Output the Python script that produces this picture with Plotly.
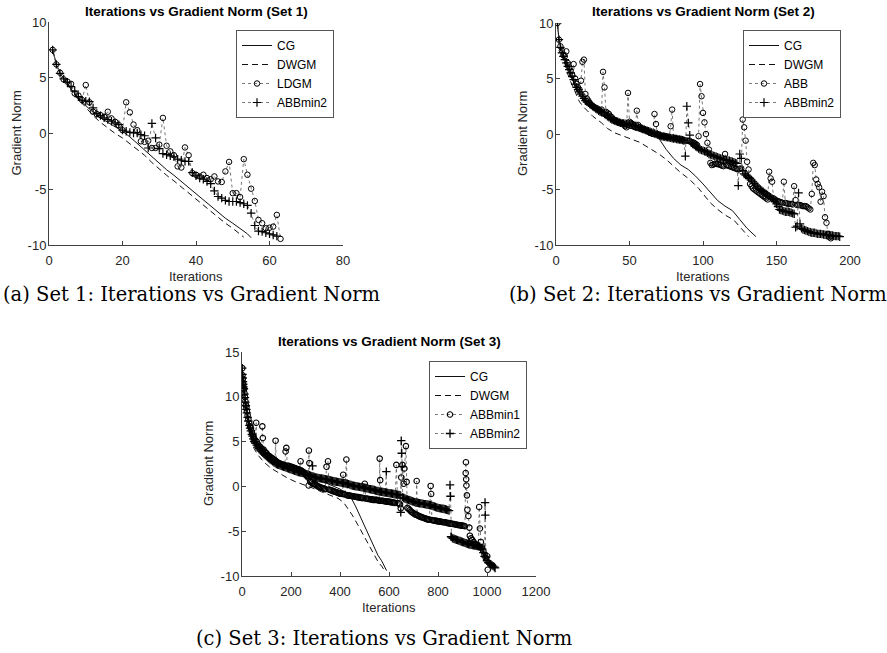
import plotly.graph_objects as go

# ---------------- Set 1 ----------------
s1_cg_iter = [1, 2, 3, 4, 5, 6, 7, 8, 9, 10, 12, 14, 16, 18, 20, 22, 24, 26, 28, 30, 32, 34, 36, 38, 40, 42, 44, 46, 48, 50, 52, 54, 55]
s1_cg_norm = [7.5, 6.2, 5.4, 4.9, 4.5, 4.0, 3.6, 3.2, 2.8, 2.5, 1.9, 1.4, 1.0, 0.6, 0.2, -0.3, -0.9, -1.5, -2.1, -2.7, -3.25, -3.75, -4.3, -4.85, -5.4, -5.95, -6.5, -7.0, -7.6, -8.05, -8.5, -9.0, -9.35]
s1_dw_iter = [1, 2, 3, 4, 5, 6, 7, 8, 9, 10, 12, 14, 16, 18, 20, 22, 24, 26, 28, 30, 32, 34, 36, 38, 40, 42, 44, 46, 48, 50, 52, 53]
s1_dw_norm = [7.5, 6.2, 5.4, 4.9, 4.5, 4.0, 3.5, 3.1, 2.7, 2.35, 1.6, 1.0, 0.5, 0.0, -0.4, -0.9, -1.45, -1.95, -2.6, -3.2, -3.75, -4.25, -4.8, -5.35, -5.9, -6.45, -7.0, -7.5, -8.05, -8.5, -9.0, -9.3]
s1_ldgm_norm = [7.5, 6.2, 5.45, 4.85, 4.65, 4.45, 3.6, 3.4, 3.0, 4.35, 2.8, 1.95, 1.75, 1.65, 1.5, 1.95, 1.35, 1.05, 0.75, 0.3,
                2.8, 1.9, 0.8, 0.3, -0.7, -0.75, -0.65, -1.3, -1.3, -1.0, 1.4, -1.1, -1.6, -1.95, -2.95, -3.05, -1.25, -1.95, -3.55, -3.7,
                -3.85, -3.7, -4.0, -4.1, -3.85, -4.3, -4.35, -3.4, -2.55, -5.35, -5.35, -5.7, -2.3, -3.7, -4.95, -6.05, -7.75, -8.05, -8.5, -8.45,
                -8.35, -7.3, -9.45]
s1_ldgm_iter = list(range(1, len(s1_ldgm_norm) + 1))
s1_abb_norm = [7.5, 6.2, 5.4, 4.9, 4.6, 4.2, 3.8, 3.3, 3.0, 2.9, 2.85, 2.3, 1.8, 1.6, 1.4, 1.25, 1.1, 0.95, 0.8, 0.3,
               0.2, 0.1, 0.05, 0.05, -0.1, -0.2, -1.3, 0.9, -0.4, -1.35, -1.8, -1.9, -2.0, -2.1, -2.3, -2.4, -2.5, -2.5, -3.5, -3.8,
               -4.0, -4.1, -4.3, -4.5, -5.15, -5.65, -5.8, -6.0, -6.1, -6.1, -6.1, -6.2, -6.3, -6.45, -7.15, -8.25, -8.75, -8.8, -8.9, -9.0,
               -9.1, -9.2]
s1_abb_iter = list(range(1, len(s1_abb_norm) + 1))

# ---------------- Set 2 ----------------
s2_cg_iter = [1, 2, 4, 6, 8, 10, 13, 16, 20, 25, 30, 35, 40, 45, 50, 55, 60, 65, 70, 75, 80, 85, 90, 95, 100, 105, 110, 115, 120, 125, 130, 136]
s2_cg_norm = [10, 8.5, 7.6, 6.8, 6.0, 5.3, 4.3, 3.6, 2.9, 2.3, 1.8, 1.4, 1.1, 0.8, 0.55, 0.35, 0.15, 0.0, -0.4, -1.4, -2.2, -2.8, -3.2, -3.8, -4.5, -5.3, -6.0, -6.5, -6.9, -7.7, -8.5, -9.25]
s2_dw_iter = [1, 2, 4, 6, 8, 10, 13, 16, 19, 25, 31, 35, 40, 50, 57, 65, 70, 75, 80, 85, 91, 97, 105, 110, 115, 121, 126, 131]
s2_dw_norm = [10, 8.5, 7.3, 6.3, 5.4, 4.7, 3.8, 2.9, 2.4, 1.6, 1.0, 0.5, 0.1, -0.4, -0.75, -1.4, -1.8, -2.3, -2.9, -3.5, -4.1, -4.9, -6.2, -6.8, -7.3, -7.75, -8.5, -9.25]
s2_abb_pts = [
    [1, 10], [2, 8.5], [3, 7.9], [4, 7.5], [5, 7.1], [6, 7.0], [7, 7.45], [8, 6.4], [9, 6.0], [10, 5.7], [11, 5.3], [12, 6.3],
    [13, 5.0], [14, 4.5], [15, 4.2], [16, 4.0], [17, 4.8], [18, 6.5], [19, 6.7], [20, 3.6], [21, 3.2], [22, 3.0], [23, 2.8],
    [24, 2.6], [25, 2.5], [26, 2.4], [27, 2.35], [28, 2.3], [29, 2.2], [30, 2.1], [31, 2.2], [32, 5.6], [33, 4.2], [34, 2.0], [35, 1.9],
    [36, 1.8], [37, 1.6], [38, 1.5], [39, 1.3], [40, 1.2], [41, 1.15], [42, 1.1], [43, 1.0], [44, 1.0], [45, 0.95], [46, 0.9], [47, 0.7],
    [48, 0.6], [49, 3.7], [50, 1.1], [51, 1.0], [52, 0.9], [53, 0.7], [54, 0.6], [55, 2.1], [56, 0.8], [57, 0.6], [58, 0.5], [59, 0.45],
    [60, 0.4], [61, 0.35], [62, 0.3], [63, 0.2], [64, 0.1], [65, 0.05], [66, 0.0], [67, 1.8], [68, 0.9], [69, 0.0], [70, -0.1],
    [71, -0.15], [72, -0.2], [73, -0.2], [74, -0.2], [75, -0.25], [76, -0.3], [77, -0.3], [78, 0.7], [79, 2.2], [80, -0.4], [81, -0.4],
    [82, -0.4], [83, -0.45], [84, -0.5], [85, -0.5], [86, -0.5], [87, -0.55], [88, -0.6], [89, -0.6], [90, -0.6], [91, -0.65],
    [92, -0.7], [93, -0.75], [94, -0.8], [95, -0.9], [96, -1.0], [97, -0.2], [98, 4.5], [99, 3.4], [100, 1.9], [101, 1.05],
    [102, 0.0], [103, -0.8], [104, -1.4], [105, -2.6], [106, -2.8], [107, -2.75], [108, -2.7], [109, -2.7], [110, -2.7], [111, -2.75],
    [112, -2.8], [113, -2.85], [114, -2.9], [115, -1.8], [116, -2.8], [117, -2.85], [118, -2.9], [119, -2.95], [120, -3.0], [121, -3.05],
    [122, -3.1], [123, -3.15], [124, -3.2], [125, -3.15], [126, -3.1], [127, 1.3], [128, 0.6], [129, -0.6], [130, -2.5], [131, -3.2],
    [132, -4.5], [133, -4.7], [134, -4.9], [135, -5.0], [136, -5.1], [137, -5.2], [138, -5.3], [139, -5.4], [140, -5.5], [141, -5.6],
    [142, -5.7], [143, -5.8], [144, -5.9], [145, -3.4], [146, -4.0], [147, -4.3], [148, -5.8], [149, -5.9], [150, -6.0], [151, -6.05],
    [152, -6.1], [153, -6.15], [154, -6.2], [155, -4.3], [156, -6.2], [157, -6.25], [158, -6.3], [159, -6.3], [160, -6.3], [161, -6.35],
    [162, -4.7], [163, -5.95], [164, -6.4], [165, -6.4], [166, -6.4], [167, -6.45], [168, -6.5], [169, -6.5], [170, -6.5], [171, -6.6],
    [172, -6.7], [173, -6.8], [174, -5.4], [175, -2.6], [176, -2.8], [177, -4.1], [178, -4.5], [179, -4.8], [180, -6.1], [181, -5.2],
    [182, -5.6], [183, -7.5], [184, -8.0], [185, -9.0], [186, -9.3], [187, -9.4]]
s2_abbmin2_pts = [
    [1, 10], [2, 8.5], [3, 7.8], [4, 7.3], [5, 7.0], [6, 6.7], [7, 6.4], [8, 6.1], [9, 5.8], [10, 5.5], [11, 5.2], [12, 4.9],
    [13, 4.5], [14, 4.2], [15, 4.0], [16, 3.8], [17, 3.6], [18, 3.4], [19, 3.2], [20, 3.0], [21, 2.9], [22, 2.8], [23, 2.7], [24, 2.6],
    [25, 2.5], [26, 2.4], [27, 2.3], [28, 2.2], [29, 2.1], [30, 2.0], [31, 1.95], [32, 1.9], [33, 1.8], [34, 1.7], [35, 1.6], [36, 1.5],
    [37, 1.4], [38, 1.3], [39, 1.25], [40, 1.2], [41, 1.15], [42, 1.1], [43, 1.05], [44, 1.0], [45, 0.98], [46, 0.95], [47, 0.92],
    [48, 0.9], [49, 0.88], [50, 0.85], [51, 0.82], [52, 0.8], [53, 0.75], [54, 0.7], [55, 0.65], [56, 0.6], [57, 0.55], [58, 0.5],
    [59, 0.45], [60, 0.4], [61, 0.35], [62, 0.3], [63, 0.25], [64, 0.2], [65, 0.15], [66, 0.1], [67, 0.05], [68, 0.0], [69, -0.05],
    [70, -0.1], [71, -0.15], [72, -0.2], [73, -0.22], [74, -0.25], [75, -0.28], [76, -0.3], [77, -0.32], [78, -0.35], [79, -0.38],
    [80, -0.4], [81, -0.42], [82, -0.45], [83, -0.48], [84, -0.5], [85, -0.52], [86, -0.55], [87, -0.6], [88, -2.0], [89, 2.5],
    [90, 1.0], [91, -0.1], [92, -0.8], [93, -0.9], [94, -1.0], [95, -1.1], [96, -1.2], [97, -1.3], [98, -1.4], [99, -1.45], [100, -1.5],
    [101, -1.55], [102, -1.6], [103, -1.7], [104, -1.8], [105, -1.85], [106, -1.9], [107, -1.95], [108, -2.0], [109, -2.05], [110, -2.1],
    [111, -2.15], [112, -2.2], [113, -2.25], [114, -2.3], [115, -2.32], [116, -2.35], [117, -2.38], [118, -2.4], [119, -2.45],
    [120, -2.5], [121, -2.55], [122, -2.6], [123, -2.65], [124, -4.65], [125, -1.8], [126, -2.2], [127, -3.3], [128, -3.6], [129, -3.7],
    [130, -3.8], [131, -3.9], [132, -4.0], [133, -4.15], [134, -4.3], [135, -4.45], [136, -4.6], [137, -4.75], [138, -4.9], [139, -5.0],
    [140, -5.1], [141, -5.2], [142, -5.3], [143, -5.4], [144, -5.5], [145, -5.6], [146, -5.7], [147, -5.8], [148, -5.9], [149, -6.1],
    [150, -6.3], [151, -6.55], [152, -6.8], [153, -6.85], [154, -6.9], [155, -6.95], [156, -7.0], [157, -7.0], [158, -7.0], [159, -7.05],
    [160, -7.1], [161, -7.15], [162, -7.2], [163, -8.4], [164, -8.3], [165, -5.3], [166, -8.1], [167, -8.5], [168, -8.6], [169, -8.65],
    [170, -8.7], [171, -8.75], [172, -8.8], [173, -8.85], [174, -8.9], [175, -8.9], [176, -8.9], [177, -8.95], [178, -9.0], [179, -9.0],
    [180, -9.0], [181, -9.02], [182, -9.05], [183, -9.08], [184, -9.1], [185, -9.1], [186, -9.1], [187, -9.12], [188, -9.15],
    [189, -9.18], [190, -9.2], [191, -9.2], [192, -9.2], [193, -9.25]]

# ---------------- Set 3 ----------------
s3_cg_iter = [1, 5, 10, 15, 20, 30, 40, 50, 65, 80, 100, 130, 160, 200, 250, 300, 350, 400, 430, 446, 465, 485, 500, 514, 536, 555, 570, 582, 590]
s3_cg_norm = [13.2, 11.4, 10.3, 9.3, 8.5, 7.2, 6.2, 5.4, 4.6, 4.0, 3.4, 2.8, 2.3, 1.8, 1.3, 0.9, 0.3, -0.3, -0.8, -1.3, -2.3, -3.5, -4.4, -5.3, -6.5, -7.7, -8.3, -9.0, -9.4]
s3_dw_iter = [1, 5, 10, 15, 20, 30, 38, 50, 65, 90, 120, 150, 188, 220, 256, 290, 324, 360, 392, 415, 433, 450, 473, 495, 514, 535, 555, 570, 580]
s3_dw_norm = [13.2, 11.2, 10.0, 8.8, 7.8, 6.2, 5.0, 4.2, 3.5, 2.7, 2.0, 1.5, 0.9, 0.5, 0.16, -0.2, -0.6, -0.95, -1.33, -1.8, -2.45, -3.2, -4.3, -5.4, -6.5, -7.5, -8.4, -8.9, -9.3]
s3_abbmin1_pts = [
    [1, 13.2], [2, 12.4], [3, 12.0], [4, 11.6], [5, 11.3], [6, 11.0], [8, 10.8], [10, 10.4], [12, 10.0], [14, 9.5], [16, 9.1],
    [18, 8.8], [20, 8.4], [23, 7.9], [26, 7.5], [30, 7.0], [33, 6.7], [36, 6.5], [40, 6.1], [43, 5.8], [46, 5.6], [50, 5.3],
    [54, 5.1], [58, 7.1], [60, 5.0], [65, 4.7], [70, 4.5], [75, 4.4], [80, 4.2], [83, 6.7], [85, 5.4], [88, 4.1], [92, 3.9],
    [96, 3.8], [100, 3.7], [105, 3.5], [110, 3.4], [115, 3.3], [120, 3.2], [125, 3.1], [130, 3.0], [135, 2.9], [137, 5.1],
    [140, 2.8], [145, 2.7], [150, 2.6], [155, 2.55], [160, 2.5], [165, 2.45], [170, 2.4], [175, 2.35], [178, 3.9], [181, 4.3],
    [185, 2.3], [190, 2.3], [195, 2.25], [200, 2.2], [205, 2.15], [210, 2.1], [215, 2.05], [220, 2.0], [225, 1.95], [230, 1.9],
    [235, 1.85], [239, 2.8], [240, 1.8], [245, 1.7], [250, 1.6], [255, 1.45], [260, 1.3], [265, 1.15], [270, 1.0], [272, 0.1],
    [273, 4.0], [275, 2.6], [278, 0.6], [280, 0.5], [285, 0.4], [290, 0.3], [295, 0.25], [300, 0.2], [305, 0.1], [310, 0.0],
    [315, -0.05], [320, -0.1], [325, -0.15], [330, -0.2], [335, -0.25], [340, -0.3], [345, 2.2], [351, 2.8], [355, -0.35],
    [360, -0.4], [365, -0.45], [370, -0.5], [375, -0.55], [380, -0.6], [385, -0.65], [390, -0.7], [395, -0.75], [400, -0.8],
    [405, -0.8], [410, -0.85], [413, 1.3], [415, -0.85], [420, -0.9], [426, 3.0], [430, -1.0], [435, -1.0], [440, -1.05],
    [445, -1.05], [450, -1.1], [455, -1.1], [460, -1.15], [465, -1.15], [470, -1.2], [475, -1.2], [480, -1.25], [485, -1.25],
    [490, -1.3], [495, -1.3], [501, 0.3], [505, -1.35], [510, -1.35], [515, -1.4], [520, -1.4], [525, -1.45], [530, -1.45],
    [535, -1.5], [540, -1.5], [545, -1.5], [550, -1.5], [555, -1.55], [560, -1.6], [562, 3.1], [564, 0.7], [566, -1.6],
    [570, -1.6], [575, -1.6], [580, -1.65], [585, -1.65], [590, -1.7], [595, -1.7], [600, -1.7], [605, -1.75], [610, -1.75],
    [615, -1.8], [620, -1.8], [625, -1.85], [630, 2.4], [635, -1.85], [640, -1.9], [645, -2.0], [648, -2.45], [650, 1.0],
    [655, 2.4], [660, 0.3], [663, 2.0], [669, 4.5], [672, 0.5], [675, -2.4], [680, -2.5], [685, -2.65], [690, -2.8], [695, -2.9],
    [700, -3.0], [705, -3.1], [710, -3.15], [713, 0.6], [716, -3.2], [720, -3.3], [725, -3.35], [730, -3.4], [735, -3.45],
    [740, -3.5], [745, -3.55], [750, -3.6], [755, -3.65], [760, -3.7], [765, -3.7], [770, 0.05], [772, -0.85], [775, -3.75],
    [780, -3.8], [785, -3.8], [790, -3.85], [795, -3.85], [800, -3.9], [805, -3.9], [810, -3.95], [815, -3.95], [820, -4.0],
    [825, -4.0], [830, -4.0], [835, -4.05], [840, -4.1], [845, -4.1], [850, -4.15], [855, -4.15], [860, -4.2], [865, -4.2],
    [870, -4.25], [875, -4.25], [880, -4.3], [885, -4.3], [890, -4.35], [895, -4.35], [900, -4.4], [905, -4.4], [910, -4.45],
    [913, 1.5], [914, 2.7], [915, 0.8], [916, 0.1], [918, -1.0], [920, -2.6], [924, -3.3], [928, -4.6], [930, -5.5], [935, -5.8],
    [940, -6.0], [945, -6.2], [950, -6.4], [955, -6.5], [960, -6.6], [965, -6.7], [968, -2.3], [971, -4.7], [975, -6.2],
    [980, -6.8], [985, -7.2], [990, -7.6], [995, -8.0], [1001, -7.8], [1003, -9.3]]
s3_abbmin2_pts = [
    [1, 13.2], [2, 12.5], [3, 12.1], [4, 11.7], [5, 11.4], [6, 11.1], [8, 10.9], [10, 10.3], [12, 9.9], [14, 9.4], [16, 9.0],
    [18, 8.6], [20, 8.2], [23, 7.7], [26, 7.3], [30, 6.8], [33, 6.5], [36, 6.2], [40, 5.8], [43, 5.6], [46, 5.3], [50, 5.0],
    [55, 4.8], [60, 4.6], [65, 4.4], [70, 4.2], [75, 4.05], [80, 3.9], [85, 3.75], [90, 3.6], [95, 3.5], [100, 3.4], [105, 3.25],
    [110, 3.1], [115, 3.0], [120, 2.9], [125, 2.8], [130, 2.7], [135, 2.6], [140, 2.5], [145, 2.45], [150, 2.4], [155, 2.35],
    [160, 2.3], [165, 2.25], [170, 2.2], [175, 2.15], [180, 2.1], [185, 2.05], [190, 2.0], [195, 1.95], [200, 1.9], [205, 1.85],
    [210, 1.8], [215, 1.75], [220, 1.7], [225, 1.65], [230, 1.6], [235, 1.57], [240, 1.55], [245, 1.52], [250, 1.5], [255, 1.45],
    [260, 1.4], [265, 1.35], [270, 1.3], [275, 1.25], [280, 1.2], [285, 1.15], [288, 2.3], [290, 1.1], [295, 1.05], [300, 1.0],
    [305, 0.98], [310, 0.95], [315, 0.92], [320, 0.9], [325, 0.88], [330, 0.85], [335, 0.82], [340, 0.8], [345, 0.78], [350, 0.75],
    [355, 0.72], [360, 0.7], [365, 0.65], [370, 0.6], [375, 0.58], [380, 0.55], [385, 0.52], [390, 0.5], [395, 0.48], [400, 0.45],
    [405, 0.42], [410, 0.4], [415, 0.38], [420, 0.35], [425, 0.32], [430, 0.3], [435, 0.25], [440, 0.2], [445, 0.15], [450, 0.1],
    [455, 0.08], [460, 0.05], [465, 0.02], [470, 0.0], [475, -0.02], [480, -0.05], [485, -0.08], [490, -0.1], [495, -0.12],
    [500, -0.15], [505, -0.18], [510, -0.2], [515, -0.25], [520, -0.3], [525, -0.32], [530, -0.35], [535, -0.38], [540, -0.4],
    [545, -0.45], [550, -0.5], [555, -0.52], [560, -0.55], [565, -0.58], [570, -0.6], [575, -0.62], [580, -0.65], [585, -0.68],
    [589, 1.65], [590, -0.7], [595, -0.72], [600, -0.75], [605, -0.78], [610, -0.8], [615, -0.82], [620, -0.85], [625, -0.88],
    [630, -0.9], [635, -0.92], [640, -0.95], [645, -0.98], [648, -2.9], [650, 5.1], [652, 3.7], [654, 2.2], [656, -1.2],
    [660, -1.3], [665, -1.35], [670, -1.4], [675, -1.45], [680, -1.5], [685, -1.55], [690, -1.6], [695, -1.65], [700, -1.7],
    [705, -1.75], [710, -1.8], [715, -1.82], [720, -1.85], [725, -1.88], [730, -1.9], [735, -1.92], [740, -1.95], [745, -1.98],
    [750, -2.0], [755, -2.02], [760, -2.05], [765, -2.08], [770, -2.1], [775, -2.15], [780, -2.2], [785, -2.25], [790, -2.3],
    [795, -2.35], [800, -2.4], [805, -2.42], [810, -2.45], [815, -2.48], [820, -2.5], [825, -2.52], [830, -2.55], [835, -2.6],
    [840, -2.65], [845, -2.7], [849, 0.16], [851, -1.1], [853, -5.6], [855, -5.65], [860, -5.8], [865, -5.85], [870, -5.9],
    [875, -5.95], [880, -6.0], [885, -6.05], [890, -6.1], [895, -6.15], [900, -6.2], [905, -6.25], [910, -6.3], [915, -6.35],
    [920, -6.4], [925, -6.45], [930, -6.5], [935, -6.52], [940, -6.55], [945, -6.58], [950, -6.6], [955, -6.62], [960, -6.65],
    [965, -6.68], [970, -6.7], [975, -6.85], [980, -7.0], [985, -7.4], [990, -7.8], [992, -1.8], [993, -3.2], [995, -7.9],
    [1000, -8.3], [1005, -8.5], [1010, -8.6], [1015, -8.7], [1020, -8.8], [1025, -8.9], [1030, -9.0], [1033, -9.1]]

W, H = 887, 653
AX = "#404040"
SANS = "Liberation Sans, Arial, sans-serif"
SERIF = "DejaVu Serif, serif"

fig = go.Figure()

def px_x(p):
    return p / W

def px_y(p):
    return 1 - p / H

def add_lines(cg_x, cg_y, dw_x, dw_y, xa, ya, leg):
    fig.add_trace(go.Scatter(x=cg_x, y=cg_y, mode="lines", name="CG", xaxis=xa, yaxis=ya, legend=leg,
                             line=dict(color="#111111", width=1)))
    fig.add_trace(go.Scatter(x=dw_x, y=dw_y, mode="lines", name="DWGM", xaxis=xa, yaxis=ya, legend=leg,
                             line=dict(color="#111111", width=1, dash="6px,4px")))

def add_markers(xs, ys, name, symbol, size, lw, xa, ya, leg):
    fig.add_trace(go.Scatter(x=xs, y=ys, mode="lines+markers", name=name, xaxis=xa, yaxis=ya, legend=leg,
                             line=dict(color="#555555", width=0.8, dash="dot"),
                             marker=dict(symbol=symbol, size=size, color="#000000",
                                         line=dict(color="#000000", width=lw))))

def split(pts):
    return [p[0] for p in pts], [p[1] for p in pts]

# set 1
add_lines(s1_cg_iter, s1_cg_norm, s1_dw_iter, s1_dw_norm, "x", "y", "legend")
add_markers(s1_ldgm_iter, s1_ldgm_norm, "LDGM", "circle-open", 5.5, 1, "x", "y", "legend")
add_markers(s1_abb_iter, s1_abb_norm, "ABBmin2", "cross-thin-open", 6, 1.2, "x", "y", "legend")
# set 2
add_lines(s2_cg_iter, s2_cg_norm, s2_dw_iter, s2_dw_norm, "x2", "y2", "legend2")
xa, ya = split(s2_abb_pts)
add_markers(xa, ya, "ABB", "circle-open", 5.5, 1, "x2", "y2", "legend2")
xa, ya = split(s2_abbmin2_pts)
add_markers(xa, ya, "ABBmin2", "cross-thin-open", 6, 1.2, "x2", "y2", "legend2")
# set 3
add_lines(s3_cg_iter, s3_cg_norm, s3_dw_iter, s3_dw_norm, "x3", "y3", "legend3")
xa, ya = split(s3_abbmin1_pts)
add_markers(xa, ya, "ABBmin1", "circle-open", 5.5, 1.1, "x3", "y3", "legend3")
xa, ya = split(s3_abbmin2_pts)
add_markers(xa, ya, "ABBmin2", "cross-thin-open", 6, 1.3, "x3", "y3", "legend3")

def axis(domain, rng, ticks, anchor, is_x):
    d = dict(domain=domain, range=rng, tickvals=ticks, ticktext=[str(t) for t in ticks], anchor=anchor,
             showline=True, linecolor=AX, linewidth=1, ticks="inside", ticklen=4, tickcolor=AX,
             showgrid=False, zeroline=False, mirror=False, automargin=False,
             tickfont=dict(family=SANS, size=13, color="#262626"))
    d["ticklabelstandoff"] = 3 if is_x else -1
    return d

plots = [
    # (left px, right px, top px, bottom px)
    (49, 343, 22, 245),
    (556, 850, 23, 245),
    (242, 536, 352, 576),
]

fig.update_layout(
    width=W, height=H, margin=dict(l=0, r=0, t=0, b=0, autoexpand=False),
    paper_bgcolor="white", plot_bgcolor="white",
    xaxis=axis([px_x(49), px_x(343)], [0, 80], [0, 20, 40, 60, 80], "y", True),
    yaxis=axis([px_y(245), px_y(22)], [-10, 10], [-10, -5, 0, 5, 10], "x", False),
    xaxis2=axis([px_x(556), px_x(850)], [0, 200], [0, 50, 100, 150, 200], "y2", True),
    yaxis2=axis([px_y(245), px_y(23)], [-10, 10], [-10, -5, 0, 5, 10], "x2", False),
    xaxis3=axis([px_x(242), px_x(536)], [0, 1200], [0, 200, 400, 600, 800, 1000, 1200], "y3", True),
    yaxis3=axis([px_y(576), px_y(352)], [-10, 15], [-10, -5, 0, 5, 10, 15], "x3", False),
    showlegend=True,
)

def legend_cfg(xr, yt):
    return dict(x=xr, y=yt, xanchor="right", yanchor="top", bgcolor="white", bordercolor="#555555", borderwidth=1,
                font=dict(family=SANS, size=12, color="#000000"), tracegroupgap=0, itemwidth=30)

fig.update_layout(legend=legend_cfg(px_x(334), px_y(30)),
                  legend2=legend_cfg(px_x(841), px_y(30)),
                  legend3=legend_cfg(px_x(527), px_y(361)))

titles = ["Iterations vs Gradient Norm (Set 1)", "Iterations vs Gradient Norm (Set 2)", "Iterations vs Gradient Norm (Set 3)"]
title_y = [12, 12, 342]
xlabel_y = [276, 276, 607]
ylabel_x = [16, 522, 208]
captions = ["(a) Set 1: Iterations vs Gradient Norm", "(b) Set 2: Iterations vs Gradient Norm", "(c) Set 3: Iterations vs Gradient Norm"]
caption_x = [191, 698, 384]
caption_y = [294, 294, 638]

for i, (l, r, t, b) in enumerate(plots):
    cx = (l + r) / 2
    fig.add_annotation(text="<b>" + titles[i] + "</b>", x=px_x(cx), y=px_y(title_y[i]), xref="paper", yref="paper",
                       showarrow=False, xanchor="center", yanchor="middle", font=dict(family=SANS, size=13.5, color="#000"))
    fig.add_annotation(text="Iterations", x=px_x(cx), y=px_y(xlabel_y[i]), xref="paper", yref="paper",
                       showarrow=False, xanchor="center", yanchor="middle", font=dict(family=SANS, size=13, color="#262626"))
    fig.add_annotation(text="Gradient Norm", x=px_x(ylabel_x[i]), y=px_y((t + b) / 2), xref="paper", yref="paper",
                       showarrow=False, xanchor="center", yanchor="middle", textangle=-90,
                       font=dict(family=SANS, size=13, color="#262626"))
    fig.add_annotation(text=captions[i], x=px_x(caption_x[i]), y=px_y(caption_y[i]), xref="paper", yref="paper",
                       showarrow=False, xanchor="center", yanchor="middle", font=dict(family=SERIF, size=19.5, color="#000"))

fig.write_html("out.html", config={"displayModeBar": False},
               post_script="document.body.style.margin='0px';")
